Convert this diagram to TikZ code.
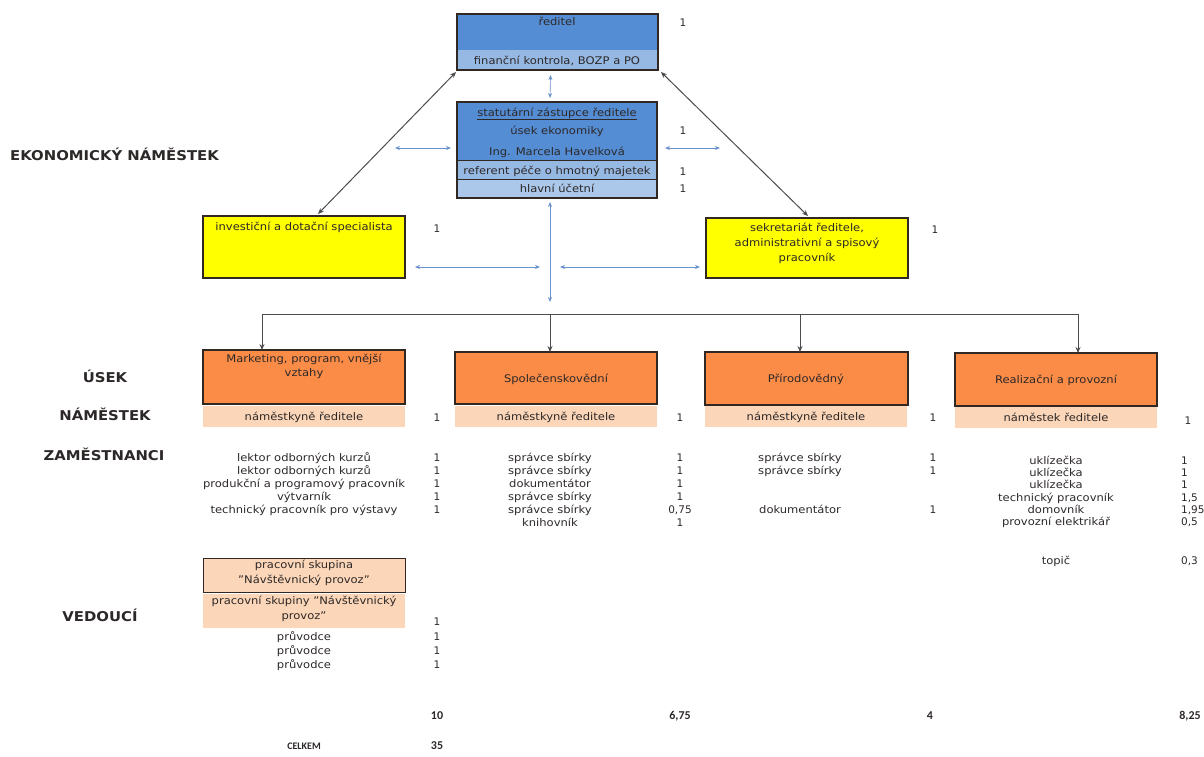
\documentclass[tikz,border=0pt]{standalone}
\usepackage{fontspec}
\setmainfont[FakeStretch=1.1]{DejaVu Sans}
\newfontfamily\numf{DejaVu Sans}
\newfontfamily\narrowf{Carlito}
\usetikzlibrary{arrows.meta,calc}
\definecolor{bluedark}{RGB}{84,141,212}
\definecolor{bluelight}{RGB}{150,185,228}
\definecolor{ylw}{RGB}{255,255,0}
\definecolor{orng}{RGB}{250,140,72}
\definecolor{peach}{RGB}{251,214,184}
\definecolor{arrblue}{RGB}{105,145,205}
\definecolor{bord}{RGB}{50,40,35}
\definecolor{txtc}{RGB}{45,40,40}
\begin{document}
\begin{tikzpicture}[x=1pt,y=-1pt,
  font=\fontsize{10.5}{12}\selectfont, text=txtc,
  boxfill/.style={anchor=north west, inner sep=0pt, outer sep=0pt},
  box/.style={boxfill, draw=bord, line width=1.2pt},
  txt/.style={inner sep=0pt, anchor=base},
  num/.style={inner sep=0pt, anchor=base, font=\fontsize{10.5}{12}\selectfont\numf},
  lab/.style={inner sep=0pt, anchor=base, font=\fontsize{13.5}{15}\selectfont\bfseries},
  tot/.style={inner sep=0pt, anchor=base, font=\fontsize{12}{14}\selectfont\narrowf\bfseries},
  band/.style={boxfill, fill=peach, minimum width=202, minimum height=21},
  lba/.style={{Stealth[length=5pt,width=4pt]}-{Stealth[length=5pt,width=4pt]}, draw=arrblue, line width=0.7pt},
  dka/.style={{Stealth[length=6pt,width=5pt]}-{Stealth[length=6pt,width=5pt]}, draw=black!70, line width=1pt},
  dkd/.style={-{Stealth[length=6pt,width=5pt]}, draw=black!70, line width=1pt}
]
\useasboundingbox (0,0) rectangle (1204,756);

% --- left labels
\node[lab, anchor=base west] (lekon) at (10,160) {EKONOMICKÝ NÁMĚSTEK};
\node[lab] (lusek) at (105,382) {ÚSEK};
\node[lab] (lnam) at (105,420) {NÁMĚSTEK};
\node[lab] (lzam) at (104,460) {ZAMĚSTNANCI};
\node[lab] (lved) at (100,621) {VEDOUCÍ};

% --- ředitel
\node[boxfill, fill=bluedark, minimum width=201, minimum height=56] (red) at (457,14) {};
\fill[bluelight] (457,50) rectangle (658,70);
\draw[bord, line width=1.1pt] (red.north west) rectangle (red.south east);
\node[txt] (redt) at (557,25) {ředitel};
\node[txt] (redf) at (557,64) {finanční kontrola, BOZP a PO};
\node[num] (redn) at (683,26) {1};

% --- statutární zástupce
\node[boxfill, fill=bluedark, minimum width=200, minimum height=96] (zast) at (457,102) {};
\fill[bluelight] (457,160) rectangle (657,198);
\fill[bluelight!80!white] (457,179) rectangle (657,198);
\draw[bord, line width=0.8pt] (457,160) -- (657,160);
\draw[bord, line width=0.8pt] (457,179) -- (657,179);
\draw[bord, line width=1.1pt] (zast.north west) rectangle (zast.south east);
\node[txt] (zt1) at (557,116) {\underline{statutární zástupce ředitele}};
\node[txt] (zt2) at (557,134) {úsek ekonomiky};
\node[txt] (zt3) at (557,155) {Ing. Marcela Havelková};
\node[txt] (zt4) at (557,174) {referent péče o hmotný majetek};
\node[txt] (zt5) at (557,192) {hlavní účetní};
\node[num] (zn1) at (683,134) {1};
\node[num] (zn2) at (683,175) {1};
\node[num] (zn3) at (683,192) {1};

% --- yellow boxes
\node[box, fill=ylw, minimum width=202, minimum height=62] (inv) at (203,216) {};
\node[txt] (invt) at (304,230) {investiční a dotační specialista};
\node[num] (invn) at (437,232) {1};
\node[box, fill=ylw, minimum width=202, minimum height=60] (sek) at (706,218) {};
\node[txt, align=center, anchor=north, font=\fontsize{10.5}{15}\selectfont] (sekt) at (807,223) {sekretariát ředitele,\\administrativní a spisový\\pracovník};
\node[num] (sekn) at (935,233) {1};

% --- blue arrows
\coordinate (la) at (395,148);
\coordinate (ra) at (720,148);
\coordinate (hub) at (550,302);
\coordinate (hl) at (540,267);
\coordinate (hr) at (560,267);
\draw[lba] ($(red.south)+(-7,5)$) -- ($(zast.north)+(-7,-4)$);
\draw[lba] (la) -- ($(zast.west)+(-6,-2)$);
\draw[lba] ($(zast.east)+(8,-2)$) -- (ra);
\draw[lba] ($(zast.south)+(-7,4)$) -- (hub);
\draw[lba] ($(inv.east)+(10,20)$) -- (hl);
\draw[lba] (hr) -- ($(sek.west)+(-6,19)$);

% --- dark diagonal arrows
\draw[dka] ($(red.south west)+(-1,2)$) -- ($(inv.north)+(14,-2)$);
\draw[dka] ($(red.south east)+(3,2)$) -- ($(sek.north)+(1,-2)$);

% --- orange section boxes
\node[box, fill=orng, minimum width=202, minimum height=54] (u1) at (203,350) {};
\node[box, fill=orng, minimum width=202, minimum height=52] (u2) at (455,352) {};
\node[box, fill=orng, minimum width=203, minimum height=53] (u3) at (705,352) {};
\node[box, fill=orng, minimum width=202, minimum height=53] (u4) at (955,353) {};
\node[txt, align=center, anchor=north, font=\fontsize{10.5}{13.5}\selectfont] (u1t) at (304,354) {Marketing, program, vnější\\vztahy};
\node[txt] (u2t) at (556,382) {Společenskovědní};
\node[txt] (u3t) at (806,382) {Přírodovědný};
\node[txt] (u4t) at (1056,383) {Realizační a provozní};

% --- tree connectors
\coordinate (t1) at (262,314);
\coordinate (t2) at (550,314);
\coordinate (t3) at (800,314);
\coordinate (t4) at (1078,314);
\draw[black!70, line width=1pt] (t1) -- (t4);
\draw[dkd] (t1) -- (t1 |- u1.north);
\draw[dkd] (t2) -- (t2 |- u2.north);
\draw[dkd] (t3) -- (t3 |- u3.north);
\draw[dkd] (t4) -- (t4 |- u4.north);

% --- deputy bands
\node[band] (n1) at (203,406) {};
\node[band] (n2) at (455,406) {};
\node[band] (n3) at (705,406) {};
\node[band] (n4) at (955,407) {};
\node[txt] (n1t) at (304,420) {náměstkyně ředitele};
\node[txt] (n2t) at (556,420) {náměstkyně ředitele};
\node[txt] (n3t) at (806,420) {náměstkyně ředitele};
\node[txt] (n4t) at (1056,421) {náměstek ředitele};
\node[num] (n1n) at (437,421) {1};
\node[num] (n2n) at (680,421) {1};
\node[num] (n3n) at (933,421) {1};
\node[num] (n4n) at (1188,424) {1};

% --- staff column 1
\foreach \t [count=\i] in {lektor odborných kurzů, lektor odborných kurzů, produkční a programový pracovník, výtvarník, technický pracovník pro výstavy}
  \node[txt] (a\i) at (304,448+13*\i) {\t};
\foreach \i in {1,...,5}
  \node[num] (an\i) at (437,448+13*\i) {1};

% --- staff column 2
\foreach \t [count=\i] in {správce sbírky, správce sbírky, dokumentátor, správce sbírky, správce sbírky, knihovník}
  \node[txt] (b\i) at (550,448+13*\i) {\t};
\foreach \t [count=\i] in {1,1,1,1,{0,75},1}
  \node[num] (bn\i) at (680,448+13*\i) {\t};

% --- staff column 3
\node[txt] (c1) at (800,461) {správce sbírky};
\node[txt] (c2) at (800,474) {správce sbírky};
\node[txt] (c3) at (800,513) {dokumentátor};
\node[num] (cn1) at (933,461) {1};
\node[num] (cn2) at (933,474) {1};
\node[num] (cn3) at (933,513) {1};

% --- staff column 4
\foreach \t [count=\i] in {uklízečka, uklízečka, uklízečka, technický pracovník, domovník, provozní elektrikář}
  \node[txt] (d\i) at (1056,452+12.3*\i) {\t};
\foreach \t [count=\i] in {1,1,1,{1,5},{1,95},{0,5}}
  \node[num, anchor=base west] (dn\i) at (1181,452+12.3*\i) {\t};
\node[txt] (d7) at (1056,564) {topič};
\node[num, anchor=base west] (dn7) at (1181,564) {0,3};

% --- visitor group
\node[box, fill=peach, minimum width=202, minimum height=34, line width=0.9pt] (ps) at (203,558) {};
\node[txt, align=center, anchor=north, font=\fontsize{10.5}{15}\selectfont] (pst) at (304,560) {pracovní skupina\\"Návštěvnický provoz"};
\node[boxfill, fill=peach, minimum width=202, minimum height=34] (psv) at (203,594) {};
\node[txt, align=center, anchor=north, font=\fontsize{10.5}{15}\selectfont] (psvt) at (304,596) {pracovní skupiny "Návštěvnický\\provoz"};
\node[num] (psn) at (437,625) {1};
\foreach \i in {1,2,3}
  \node[txt] (p\i) at (304,626+14*\i) {průvodce};
\foreach \i in {1,2,3}
  \node[num] (pn\i) at (437,626+14*\i) {1};

% --- totals
\node[tot] (s1) at (437,719) {10};
\node[tot] (s2) at (680,719) {6,75};
\node[tot] (s3) at (930,719) {4};
\node[tot] (s4) at (1190,719) {8,25};
\node[tot, font=\fontsize{10}{12}\selectfont\narrowf\bfseries] (celk) at (304,749) {CELKEM};
\node[tot] (celkn) at (437,749) {35};
\end{tikzpicture}
\end{document}
